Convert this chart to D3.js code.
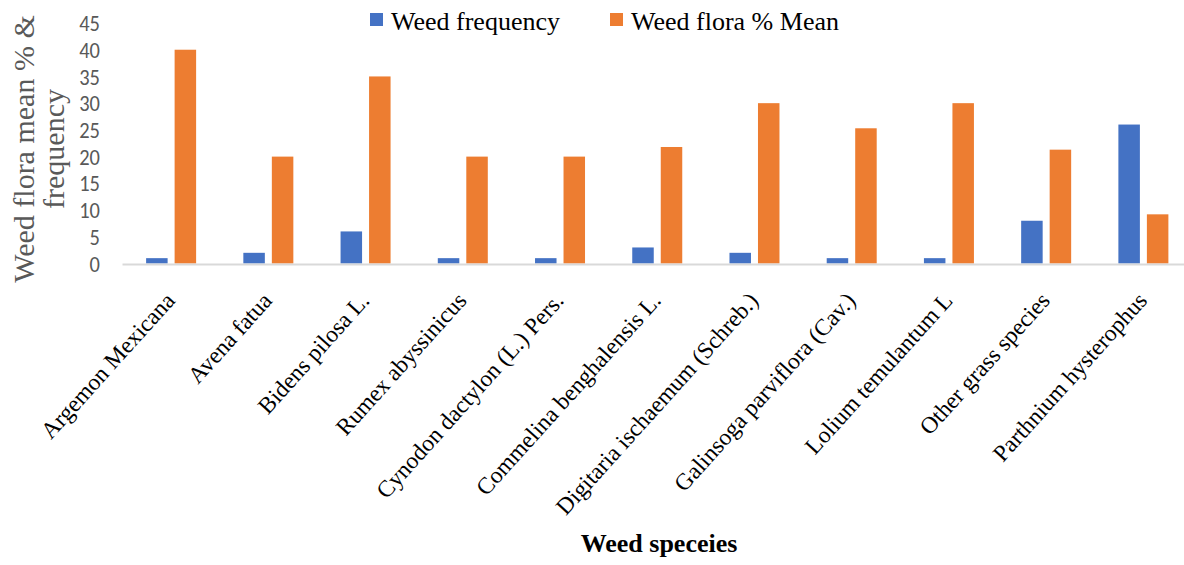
<!DOCTYPE html>
<html><head><meta charset="utf-8">
<script src="https://cdn.jsdelivr.net/npm/d3@7"></script>
<style>body{margin:0;background:#fff}svg{display:block}</style>
</head><body>
<svg id="chart" width="1184" height="565"></svg>
<script>
const categories = ["Argemon Mexicana","Avena fatua","Bidens pilosa L.","Rumex abyssinicus","Cynodon dactylon (L.) Pers.","Commelina benghalensis L.","Digitaria ischaemum (Schreb.)","Galinsoga parviflora (Cav.)","Lolium temulantum L","Other grass species","Parthnium hysterophus"];
const weedFrequency = [1, 2, 6, 1, 1, 3, 2, 1, 1, 8, 26];
const weedFloraMean = [40, 20, 35, 20, 20, 21.8, 30, 25.3, 30, 21.3, 9.2];
const seriesNames = ["Weed frequency","Weed flora % Mean"];
const yTicks = [0,5,10,15,20,25,30,35,40,45];
const yTitleLines = ["Weed flora mean % &", "frequency"];

const svg = d3.select("#chart");
const W = 1184, H = 565;
const serif = "'Liberation Serif', 'Times New Roman', serif";
const x = d3.scaleBand().domain(categories).range([122.5, 1192]).paddingInner(0).paddingOuter(0);
const y = d3.scaleLinear().domain([0,45]).range([263.5, 23]);
const colors = ["#4472c4","#ed7d31"];
const series = [weedFrequency, weedFloraMean];
const barW = 21.5, gap = 7;

// y tick labels
svg.append("g").selectAll("text").data(yTicks).join("text")
  .attr("transform", d => `translate(100,${y(d)}) scale(1,1.1)`)
  .attr("dy","0.36em")
  .attr("text-anchor","end")
  .attr("font-family","Carlito, 'Liberation Sans', sans-serif")
  .attr("font-size", 20.5).attr("fill","#595959")
  .text(d => d);

// bars
series.forEach((vals, si) => {
  svg.append("g").selectAll("rect").data(vals).join("rect")
    .attr("x", (d,i) => x(categories[i]) + x.bandwidth()/2 + (si===0 ? -(gap/2 + barW) : gap/2))
    .attr("y", d => y(d))
    .attr("width", barW)
    .attr("height", d => y(0) - y(d))
    .attr("fill", colors[si]);
});

// x axis line
svg.append("line").attr("x1", 122.5).attr("x2", W).attr("y1", y(0)+1).attr("y2", y(0)+1)
  .attr("stroke","#d9d9d9").attr("stroke-width",2);

// x labels
svg.append("g").selectAll("text").data(categories).join("text")
  .attr("transform", d => `translate(${x(d)+x.bandwidth()/2 + 5},${y(0)+38}) rotate(-48)`)
  .attr("text-anchor","end")
  .attr("font-family", serif)
  .attr("font-size", 23.5).attr("fill","#000")
  .text(d => d);

// y axis title (two lines)
svg.append("g").selectAll("text").data(yTitleLines).join("text")
  .attr("transform", (d,i) => `translate(${34 + i*30},149) rotate(-90)`)
  .attr("text-anchor","middle")
  .attr("font-family", serif)
  .attr("font-size", 30).attr("fill","#595959")
  .text(d => d);

// x axis title
svg.append("text").attr("x", 659).attr("y", 552).attr("text-anchor","middle")
  .attr("font-family", serif)
  .attr("font-size", 26).attr("font-weight","bold").attr("fill","#000")
  .text("Weed speceies");

// legend
const legX = [370, 610];
seriesNames.forEach((n, i) => {
  svg.append("rect").attr("x", legX[i]).attr("y", 13).attr("width", 13).attr("height", 13).attr("fill", colors[i]);
  svg.append("text").attr("x", legX[i] + 21).attr("y", 30)
    .attr("font-family", serif)
    .attr("font-size", 26).attr("fill","#000").text(n);
});
</script>
</body></html>
